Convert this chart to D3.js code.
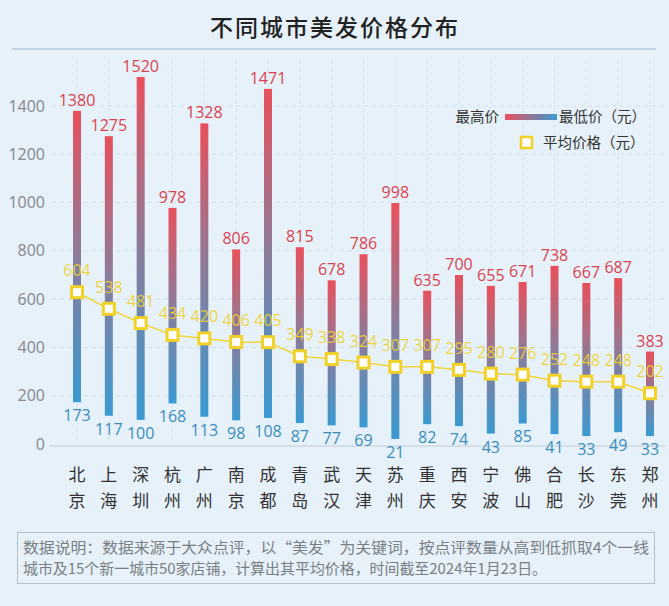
<!DOCTYPE html>
<html><head><meta charset="utf-8">
<script src="https://cdn.jsdelivr.net/npm/d3@7"></script>
<style>
html,body{margin:0;padding:0;background:#e6f1f9;}
svg{display:block;font-family:"Noto Sans CJK SC","Noto Sans",sans-serif;}
</style></head>
<body>
<svg id="c" width="669" height="606"></svg>
<script>
const cities = ["北京","上海","深圳","杭州","广州","南京","成都","青岛","武汉","天津","苏州","重庆","西安","宁波","佛山","合肥","长沙","东莞","郑州"];
const maxPrice = [1380,1275,1520,978,1328,806,1471,815,678,786,998,635,700,655,671,738,667,687,383];
const minPrice = [173,117,100,168,113,98,108,87,77,69,21,82,74,43,85,41,33,49,33];
const avgPrice = [604,538,481,434,420,406,405,349,338,324,307,307,295,280,276,252,248,248,202];
const yTicks = [0,200,400,600,800,1000,1200,1400];
const title = "不同城市美发价格分布";
const note = ["数据说明：数据来源于大众点评，以“美发”为关键词，按点评数量从高到低抓取4个一线",
              "城市及15个新一城市50家店铺，计算出其平均价格，时间截至2024年1月23日。"];

const svg = d3.select("#c");
const W = 669, H = 606;
svg.append("rect").attr("width",W).attr("height",H).attr("fill","#e6f1f9");

const defs = svg.append("defs");
const g1 = defs.append("linearGradient").attr("id","barGrad").attr("x1",0).attr("y1",0).attr("x2",0).attr("y2",1);
g1.append("stop").attr("offset","0%").attr("stop-color","#e8505c");
g1.append("stop").attr("offset","50%").attr("stop-color","#8b7c9a");
g1.append("stop").attr("offset","100%").attr("stop-color","#3a9ad2");
const g2 = defs.append("linearGradient").attr("id","legGrad").attr("x1",0).attr("y1",0).attr("x2",1).attr("y2",0);
g2.append("stop").attr("offset","0%").attr("stop-color","#e8505c");
g2.append("stop").attr("offset","100%").attr("stop-color","#3a9ad2");

// title
svg.append("text").attr("x",335).attr("y",36).attr("text-anchor","middle")
  .attr("font-size",23).attr("font-weight",500).attr("fill","#222").attr("letter-spacing",2).text(title);
svg.append("line").attr("x1",12).attr("x2",656).attr("y1",49).attr("y2",49)
  .attr("stroke","#9fb7c8").attr("stroke-width",1);

const x = d3.scalePoint().domain(cities).range([77,650]);
const y = d3.scaleLinear().domain([0,1400]).range([444,106]);
// average series is drawn on its own (secondary) scale, as in the reference
const y2 = d3.scaleLinear().domain([0,1345]).range([444,106]);

// grid
svg.append("g").selectAll("line").data(yTicks.slice(1)).join("line")
  .attr("x1",52).attr("x2",664).attr("y1",d=>y(d)).attr("y2",d=>y(d))
  .attr("stroke","#d3e0ea").attr("stroke-dasharray","4,4");
svg.append("g").selectAll("line").data(cities).join("line")
  .attr("x1",d=>x(d)).attr("x2",d=>x(d)).attr("y1",60).attr("y2",444)
  .attr("stroke","#d8e4ee").attr("stroke-dasharray","4,4");

// y axis
const yAxis = d3.axisLeft(y).tickValues(yTicks).tickFormat(d3.format("d")).tickSize(0).tickPadding(0);
const ya = svg.append("g").attr("transform","translate(45,0)").call(yAxis);
ya.select(".domain").remove();
ya.selectAll("text").attr("font-size",16).attr("fill","#8a8d91").attr("font-family","'Noto Sans','Noto Sans CJK SC',sans-serif");

// x axis line
svg.append("line").attr("x1",50).attr("x2",665).attr("y1",446).attr("y2",446).attr("stroke","#c4ccd3");

// category labels
const cl = svg.append("g").selectAll("text").data(cities).join("text")
  .attr("x",d=>x(d)).attr("text-anchor","middle").attr("font-size",17).attr("fill","#333");
cl.append("tspan").attr("x",d=>x(d)).attr("y",481).text(d=>d[0]);
cl.append("tspan").attr("x",d=>x(d)).attr("y",507).text(d=>d[1]);

// bars
const bw = 8;
svg.append("g").selectAll("rect").data(cities).join("rect")
  .attr("x",d=>x(d)-bw/2).attr("width",bw)
  .attr("y",(d,i)=>y(maxPrice[i])).attr("height",(d,i)=>y(minPrice[i])-y(maxPrice[i]))
  .attr("fill","url(#barGrad)");

// max labels
svg.append("g").selectAll("text").data(cities).join("text")
  .attr("x",d=>x(d)).attr("y",(d,i)=>y(maxPrice[i])-5).attr("text-anchor","middle")
  .attr("font-size",16).attr("fill","#d9434f").attr("font-family","'Open Sans','Noto Sans',sans-serif")
  .text((d,i)=>maxPrice[i]);
// min labels
svg.append("g").selectAll("text").data(cities).join("text")
  .attr("x",d=>x(d)).attr("y",(d,i)=>y(minPrice[i])+19).attr("text-anchor","middle")
  .attr("font-size",16).attr("fill","#3a8dbb").attr("font-family","'Open Sans','Noto Sans',sans-serif")
  .text((d,i)=>minPrice[i]);

// avg line
const line = d3.line().x((d,i)=>x(cities[i])).y(d=>y2(d));
svg.append("path").datum(avgPrice).attr("d",line).attr("fill","none")
  .attr("stroke","#f0d53a").attr("stroke-width",1.5);
const ms = 11;
svg.append("g").selectAll("rect").data(avgPrice).join("rect")
  .attr("x",(d,i)=>x(cities[i])-ms/2).attr("y",d=>y2(d)-ms/2).attr("width",ms).attr("height",ms)
  .attr("fill","#fff").attr("stroke","#f2d228").attr("stroke-width",3);
svg.append("g").selectAll("text").data(avgPrice).join("text")
  .attr("x",(d,i)=>x(cities[i])).attr("y",d=>y2(d)-16).attr("text-anchor","middle")
  .attr("font-size",16).attr("fill","#f0d230").attr("fill-opacity",0.92)
  .attr("font-family","'Open Sans','Noto Sans',sans-serif").text(d=>d);

// legend
svg.append("text").attr("x",499).attr("y",122).attr("text-anchor","end").attr("font-size",14.5).attr("fill","#333").text("最高价");
svg.append("rect").attr("x",505).attr("y",114).attr("width",52).attr("height",6).attr("fill","url(#legGrad)");
svg.append("text").attr("x",559).attr("y",122).attr("font-size",14.5).attr("fill","#333").text("最低价（元）");
svg.append("rect").attr("x",521).attr("y",137).attr("width",11).attr("height",11)
  .attr("fill","#fff").attr("stroke","#f2d228").attr("stroke-width",2.5);
svg.append("text").attr("x",543).attr("y",148).attr("font-size",14.5).attr("fill","#333").text("平均价格（元）");

// note box
svg.append("rect").attr("x",17.5).attr("y",532.5).attr("width",637).attr("height",51)
  .attr("fill","none").attr("stroke","#b7c0c7").attr("stroke-width",1);
svg.append("g").selectAll("text").data(note).join("text")
  .attr("x",23).attr("y",(d,i)=>553+i*21).attr("font-size",15).attr("fill","#7a7f84")
  .attr("textLength",(d,i)=>i===0?626:524).attr("lengthAdjust","spacingAndGlyphs")
  .text(d=>d);
</script>
</body></html>
